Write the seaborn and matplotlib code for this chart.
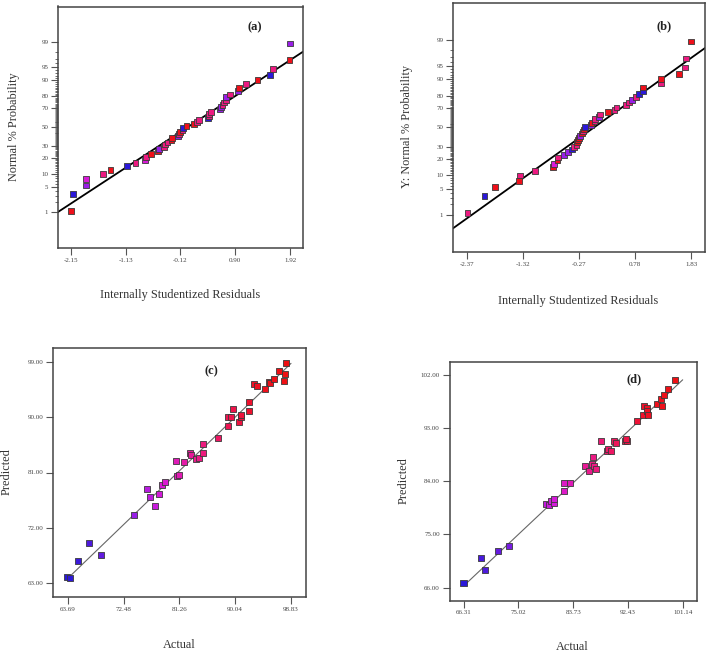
import matplotlib
matplotlib.use("Agg")
import matplotlib.pyplot as plt
from matplotlib.colors import LinearSegmentedColormap
import seaborn as sns
import pandas as pd
from statistics import NormalDist

# ---- data ----
# (a) normal plot of residuals
a_resid = [-2.15, -2.106, -1.864, -1.864, -1.553, -1.416, -1.111, -0.949, -0.775, -0.75,
           -0.663, -0.532, -0.52, -0.42, -0.408, -0.358, -0.283, -0.277, -0.165, -0.146,
           -0.128, -0.078, -0.065, -0.003, 0.14, 0.19, 0.227, 0.401, 0.414, 0.414,
           0.445, 0.619, 0.638, 0.663, 0.694, 0.725, 0.731, 0.80, 0.955, 0.974,
           1.098, 1.316, 1.546, 1.609, 1.907, 1.913]
a_colour = ["red", "blue", "purple", "magenta", "pink", "red", "blue", "pink", "magenta", "pink",
            "red", "red", "purple", "pink", "pink", "pink", "red", "red", "purple", "pink",
            "red", "pink", "blue", "red", "red", "pink", "pink", "blue", "pink", "pink",
            "pink", "purple", "purple", "pink", "pink", "pink", "purple", "pink", "purple", "red",
            "pink", "red", "blue", "pink", "red", "purple"]
a_xticks = [-2.15, -1.13, -0.12, 0.90, 1.92]
a_line = (0.967, -0.02)  # slope, intercept in z units

# (b) normal plot of residuals
b_resid = [-2.37, -2.05, -1.845, -1.395, -1.38, -1.10, -0.76, -0.745, -0.68, -0.67,
           -0.56, -0.48, -0.41, -0.37, -0.32, -0.315, -0.29, -0.28, -0.26, -0.22,
           -0.195, -0.18, -0.165, -0.05, -0.04, 0.015, 0.02, 0.10, 0.125, 0.275,
           0.39, 0.43, 0.605, 0.67, 0.72, 0.79, 0.85, 0.92, 0.93, 1.27,
           1.27, 1.60, 1.71, 1.735, 1.83]
b_colour = ["pink", "blue", "red", "red", "pink", "pink", "red", "magenta", "red", "pink",
            "purple", "purple", "blue", "pink", "pink", "red", "red", "red", "purple", "red",
            "pink", "red", "blue", "purple", "red", "pink", "pink", "purple", "pink", "red",
            "pink", "pink", "pink", "pink", "purple", "pink", "blue", "blue", "red", "pink",
            "red", "red", "pink", "pink", "red"]
b_xticks = [-2.37, -1.32, -0.27, 0.78, 1.83]
b_line = (1.015, -0.01)

prob_major = [1, 5, 10, 20, 30, 50, 70, 80, 90, 95, 99]

# (c) predicted vs actual
c_actual = [63.59, 64.0, 65.32, 67.1, 68.93, 74.1, 76.22, 76.64, 77.38, 78.06,
            78.58, 79.05, 80.78, 80.89, 81.15, 82.04, 82.99, 83.04, 83.83, 84.35,
            84.98, 85.03, 87.34, 88.86, 88.97, 89.44, 89.75, 90.7, 90.91, 90.96,
            92.27, 92.27, 93.06, 93.53, 94.73, 95.36, 95.52, 96.15, 96.94, 97.72,
            97.88, 98.09]
c_pred = [63.87, 63.76, 66.59, 69.42, 67.46, 74.05, 78.3, 76.94, 75.52, 77.49,
          78.9, 79.5, 82.82, 80.43, 80.65, 82.66, 84.13, 83.86, 83.15, 83.42,
          84.13, 85.6, 86.69, 88.54, 90.07, 90.07, 91.43, 89.25, 90.07, 90.45,
          91.1, 92.52, 95.51, 95.08, 94.59, 95.79, 95.68, 96.22, 97.64, 95.95,
          97.04, 98.95]
c_xticks = [63.69, 72.48, 81.26, 90.04, 98.83]
c_yticks = [63.0, 72.0, 81.0, 90.0, 99.0]

# (d) predicted vs actual
d_actual = [66.26, 69.07, 69.65, 71.82, 73.57, 79.46, 79.88, 80.15, 80.62, 80.68,
            82.21, 82.32, 83.27, 85.66, 86.24, 86.72, 86.93, 86.98, 87.3, 88.1,
            89.16, 89.32, 89.79, 90.17, 90.54, 91.91, 92.34, 92.18, 93.82, 94.88,
            94.94, 95.52, 95.52, 95.63, 97.11, 97.69, 97.9, 98.17, 98.86, 99.87]
d_pred = [66.73, 71.01, 68.99, 72.2, 72.99, 80.08, 79.97, 80.65, 80.25, 80.93,
          82.28, 83.69, 83.69, 86.51, 85.77, 86.9, 88.08, 86.62, 86.0, 90.79,
          89.1, 89.49, 89.04, 90.79, 90.51, 90.79, 90.79, 91.13, 94.23, 95.18,
          96.7, 96.37, 95.92, 95.18, 97.1, 97.89, 96.7, 98.56, 99.52, 101.15]
d_xticks = [66.31, 75.02, 83.73, 92.43, 101.14]
d_yticks = [66.0, 75.0, 84.0, 93.0, 102.0]

# ---- style ----
sns.set_style("white")
plt.rcParams["font.family"] = ["Liberation Serif", "DejaVu Serif"]

cmap = LinearSegmentedColormap.from_list(
    "de", [(0, "#2a18d8"), (0.3, "#9a1ee6"), (0.42, "#d81ad8"),
           (0.6, "#ec1a80"), (0.85, "#ee1020"), (1, "#ee1010")])
level = {"blue": 0.0, "purple": 0.3, "magenta": 0.42, "pink": 0.6, "red": 0.9}
nd = NormalDist()
EDGE = "#3a3a3a"
TXT = "#333333"

fig = plt.figure(figsize=(7.08, 6.53), dpi=100)


def style_axes(ax):
    for s in ax.spines.values():
        s.set_color("#444444")
        s.set_linewidth(1.1)
    ax.tick_params(axis="both", which="major", direction="out", length=5,
                   width=0.8, color="#555555", labelsize=5, labelcolor="#444444",
                   pad=2, bottom=True, left=True)
    ax.tick_params(axis="y", which="minor", direction="out", length=2.5,
                   width=0.6, color="#555555", left=True)


def normal_panel(rect, resid, colours, xticks, line, xlim, tag, tagxy):
    ax = fig.add_axes(rect)
    n = len(resid)
    df = pd.DataFrame({"resid": sorted(resid)})
    # colours follow the order (already sorted by residual)
    df["lvl"] = [level[c] for c in colours]
    df["z"] = [nd.inv_cdf((i + 0.5) / n) for i in range(n)]
    ax.axline((0, line[1]), slope=line[0], color="black", lw=1.3, zorder=1)
    sns.scatterplot(data=df, x="resid", y="z", hue="lvl", palette=cmap, hue_norm=(0, 1),
                    marker="s", s=17, edgecolor=EDGE, linewidth=0.6, legend=False,
                    ax=ax, zorder=3)
    ax.set_xlim(*xlim)
    ax.set_ylim(-3.32, 3.31)
    ax.set_xticks(xticks)
    ax.set_xticklabels([f"{t:.2f}" for t in xticks])
    ax.set_yticks([nd.inv_cdf(p / 100) for p in prob_major])
    ax.set_yticklabels([str(p) for p in prob_major])
    ax.set_yticks([nd.inv_cdf(p / 100) for p in range(1, 100) if p not in prob_major],
                  minor=True)
    ax.set_xlabel("")
    ax.set_ylabel("")
    style_axes(ax)
    ax.text(tagxy[0], tagxy[1], tag, transform=ax.transAxes, fontsize=9,
            fontweight="bold", ha="center", va="center", color="#222222")
    return ax


def parity_panel(rect, actual, pred, xticks, yticks, xlim, ylim, tag, tagxy):
    ax = fig.add_axes(rect)
    df = pd.DataFrame({"actual": actual, "pred": pred})
    ax.plot([xticks[0], xticks[-1]], [xticks[0], xticks[-1]], color="#666666",
            lw=0.8, zorder=1)
    sns.scatterplot(data=df, x="actual", y="pred", hue="actual", palette=cmap,
                    hue_norm=(xticks[0], xticks[-1]), marker="s", s=20,
                    edgecolor=EDGE, linewidth=0.6, legend=False, ax=ax, zorder=3)
    ax.set_xlim(*xlim)
    ax.set_ylim(*ylim)
    ax.set_xticks(xticks)
    ax.set_xticklabels([f"{t:.2f}" for t in xticks])
    ax.set_yticks(yticks)
    ax.set_yticklabels([f"{t:.2f}" for t in yticks])
    ax.set_xlabel("")
    ax.set_ylabel("")
    style_axes(ax)
    ax.text(tagxy[0], tagxy[1], tag, transform=ax.transAxes, fontsize=9,
            fontweight="bold", ha="center", va="center", color="#222222")
    return ax


W, H = 708, 653


def rect(l, t, r, b):
    return [l / W, 1 - b / H, (r - l) / W, (b - t) / H]


normal_panel(rect(58, 6.5, 303, 248), a_resid, a_colour, a_xticks, a_line,
             (-2.39, 2.16), "(a)", ((255 - 58) / 245, 1 - (27 - 6.5) / 241.5))
normal_panel(rect(453, 3, 705, 252), b_resid, b_colour, b_xticks, b_line,
             (-2.64, 2.09), "(b)", ((664 - 453) / 252, 1 - (26 - 3) / 249))
parity_panel(rect(53, 348, 306, 597), c_actual, c_pred, c_xticks, c_yticks,
             (61.38, 101.19), (60.66, 101.34), "(c)",
             ((211.7 - 53) / 253, 1 - (371.7 - 348) / 249))
parity_panel(rect(449.7, 361.7, 696.7, 600.7), d_actual, d_pred, d_xticks, d_yticks,
             (64.08, 103.37), (63.8, 104.2), "(d)",
             ((634 - 449.7) / 247, 1 - (379 - 361.7) / 239))


def label(x, y, s, rot=0):
    fig.text(x / W, 1 - y / H, s, ha="center", va="center", rotation=rot,
             fontsize=8.8, color=TXT)


label(14, 127, "Normal % Probability", 90)
label(180, 295, "Internally Studentized Residuals")
label(407, 127, "Y: Normal % Probability", 90)
label(578, 301, "Internally Studentized Residuals")
label(7, 472, "Predicted", 90)
label(179, 645, "Actual")
label(404, 481, "Predicted", 90)
label(572, 647, "Actual")

fig.savefig("out.png", dpi=100)
